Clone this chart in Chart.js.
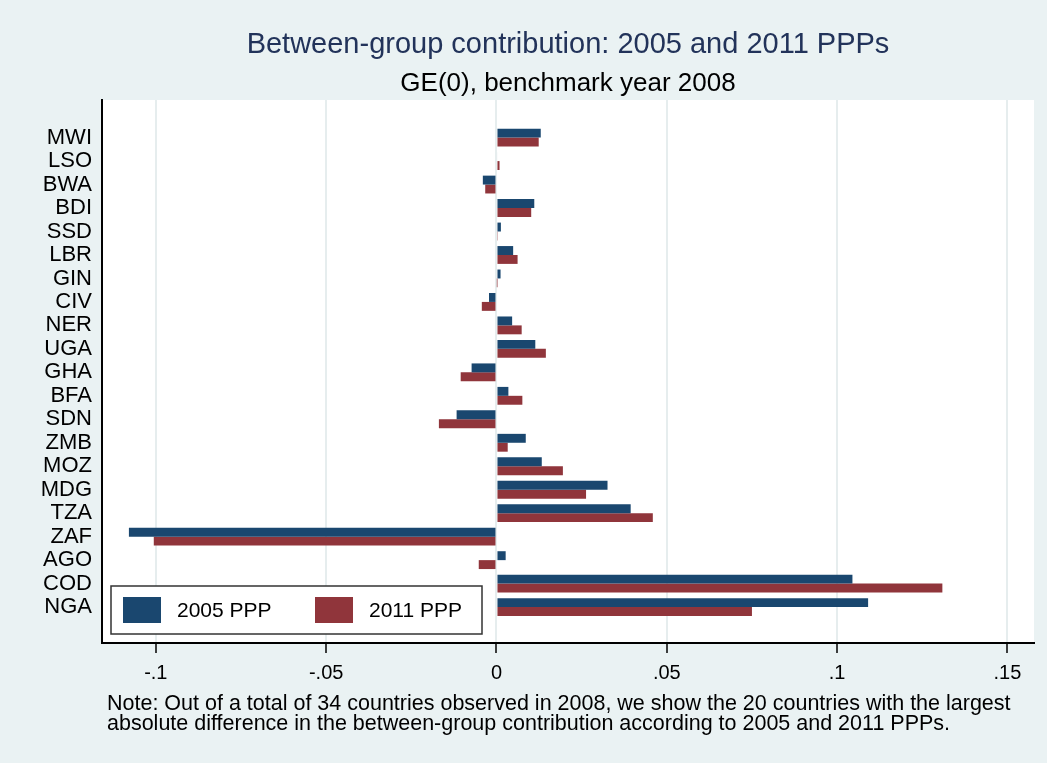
<!DOCTYPE html>
<html lang="en">
<head>
    <meta charset="UTF-8">
    <title>Between-group contribution: 2005 and 2011 PPPs</title>
    <script src="https://cdn.jsdelivr.net/npm/chart.js@4.4.1/dist/chart.umd.min.js"></script>
    <style>
        body {
            margin: 0;
            background-color: #eaf2f3;
        }
        #wrap {
            position: relative;
            width: 1047px;
            height: 763px;
        }
        #note {
            position: absolute;
            left: 107px;
            top: 694px;
            font-family: "Liberation Sans", Arial, sans-serif;
            font-size: 21.5px;
            line-height: 19.5px;
            color: #000;
        }
    </style>
</head>
<body>
    <div id="wrap">
        <canvas id="chart"></canvas>
        <div id="note">Note: Out of a total of 34 countries observed in 2008, we show the 20 countries with the largest<br>absolute difference in the between-group contribution according to 2005 and 2011 PPPs.</div>
    </div>

    <script>
        const countries = ['MWI', 'LSO', 'BWA', 'BDI', 'SSD', 'LBR', 'GIN', 'CIV', 'NER', 'UGA', 'GHA',
                           'BFA', 'SDN', 'ZMB', 'MOZ', 'MDG', 'TZA', 'ZAF', 'AGO', 'COD', 'NGA'];
        const ppp2005 = [0.0130, 0.0003, -0.0040, 0.0111, 0.0013, 0.0049, 0.0012, -0.0022, 0.0046, 0.0114, -0.0073,
                         0.0035, -0.0117, 0.0086, 0.0133, 0.0326, 0.0394, -0.1079, 0.0027, 0.1045, 0.1091];
        const ppp2011 = [0.0124, 0.0009, -0.0033, 0.0102, 0.0002, 0.0062, 0.0001, -0.0043, 0.0074, 0.0145, -0.0105,
                         0.0076, -0.0169, 0.0033, 0.0195, 0.0263, 0.0459, -0.1006, -0.0052, 0.1309, 0.0750];
        const xTicks = [-0.1, -0.05, 0, 0.05, 0.1, 0.15];
        const xTickLabels = ['-.1', '-.05', '0', '.05', '.1', '.15'];

        const FONT = '"Liberation Sans", Arial, sans-serif';

        // white plot region over the grey-blue graph background
        const plotRegion = {
            id: 'plotRegion',
            beforeDraw(chart) {
                const { ctx, chartArea: a } = chart;
                ctx.save();
                ctx.fillStyle = '#ffffff';
                ctx.fillRect(a.left, a.top, a.right - a.left, a.bottom - a.top);
                ctx.restore();
            }
        };

        // boxed legend sitting in the lower left corner of the plot
        const boxLegend = {
            id: 'boxLegend',
            afterDraw(chart) {
                const { ctx, chartArea: a } = chart;
                const left = a.left + 9, top = a.bottom - 57, w = 371, h = 48;
                ctx.save();
                ctx.fillStyle = '#ffffff';
                ctx.fillRect(left, top, w, h);
                ctx.strokeStyle = '#333333';
                ctx.lineWidth = 1.5;
                ctx.strokeRect(left, top, w, h);
                ctx.font = '21px ' + FONT;
                ctx.textBaseline = 'middle';
                const offsets = [12, 204];
                chart.data.datasets.forEach((ds, i) => {
                    const x = left + offsets[i];
                    ctx.fillStyle = ds.backgroundColor;
                    ctx.fillRect(x, top + 11, 38, 26);
                    ctx.fillStyle = '#000';
                    ctx.fillText(ds.label, x + 54, top + h / 2 + 1);
                });
                ctx.restore();
            }
        };

        const ctx = document.getElementById('chart').getContext('2d');
        new Chart(ctx, {
            type: 'bar',
            data: {
                datasets: [{
                    label: '2005 PPP',
                    data: ppp2005.map((v, i) => ({ x: v, y: i })),
                    backgroundColor: '#1a476f'
                }, {
                    label: '2011 PPP',
                    data: ppp2011.map((v, i) => ({ x: v, y: i })),
                    backgroundColor: '#90353b'
                }]
            },
            options: {
                indexAxis: 'y',
                responsive: true,
                maintainAspectRatio: false,
                animation: false,
                categoryPercentage: 0.76,
                barPercentage: 1.0,
                layout: {
                    padding: { left: 0, right: 13, top: 0, bottom: 70 }
                },
                scales: {
                    x: {
                        type: 'linear',
                        min: -0.1158,
                        max: 0.1578,
                        afterBuildTicks: scale => {
                            scale.ticks = xTicks.map(v => ({ value: v }));
                        },
                        afterFit: scale => { scale.height = 50; },
                        ticks: {
                            color: '#000',
                            padding: 8,
                            font: { family: FONT, size: 20 },
                            callback: (value, index) => xTickLabels[index]
                        },
                        grid: {
                            color: '#e6edee',
                            lineWidth: 2,
                            tickColor: '#000',
                            tickWidth: 1.5,
                            tickLength: 10
                        },
                        border: { display: true, color: '#000', width: 2 }
                    },
                    y: {
                        type: 'linear',
                        reverse: true,
                        offset: false,
                        min: -1.602,
                        max: 21.53,
                        afterBuildTicks: scale => {
                            scale.ticks = countries.map((c, i) => ({ value: i }));
                        },
                        afterFit: scale => { scale.width = 102; },
                        ticks: {
                            color: '#000',
                            padding: 10,
                            autoSkip: false,
                            font: { family: FONT, size: 22 },
                            callback: value => countries[value]
                        },
                        grid: { display: false, drawTicks: false, offset: false },
                        border: { display: true, color: '#000', width: 2 }
                    }
                },
                plugins: {
                    legend: { display: false },
                    tooltip: { enabled: false },
                    title: {
                        display: true,
                        fullSize: false,
                        text: 'Between-group contribution: 2005 and 2011 PPPs',
                        color: '#22335a',
                        font: { family: FONT, size: 29, weight: 'normal' },
                        padding: { top: 28, bottom: 5 }
                    },
                    subtitle: {
                        display: true,
                        fullSize: false,
                        text: 'GE(0), benchmark year 2008',
                        color: '#000',
                        font: { family: FONT, size: 26, weight: 'normal' },
                        padding: { top: 0, bottom: 1 }
                    }
                }
            },
            plugins: [plotRegion, boxLegend]
        });
    </script>
</body>
</html>
